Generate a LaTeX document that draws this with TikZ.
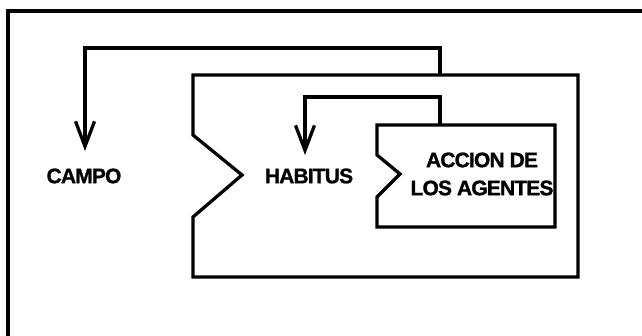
\documentclass[tikz,border=0pt]{standalone}
\usepackage{fontspec}
\setmainfont{Liberation Sans}[LetterSpace=-4, BoldFeatures={FakeBold=1.2}]
\usetikzlibrary{arrows.meta,positioning}

\begin{document}
\begin{tikzpicture}[
                x=1pt, y=-1pt,
                wall/.style={line width=3.3pt, line join=miter},
                loop/.style={line width=3.3pt, -{Straight Barb[length=25pt,width=19pt,line width=3.3pt]}},
                lab/.style={font=\bfseries\fontsize{21}{28}\selectfont, align=center, inner sep=0pt}
            ]
                \useasboundingbox (0,0) rectangle (642,336);

% frame
                \draw[wall] (8,336) -- (8,11) -- (642,11);

% corners of the boxes
                \coordinate (fa) at (193,75);
                \coordinate (fb) at (578,75);
                \coordinate (fc) at (578,277);
                \coordinate (fd) at (193,277);
                \coordinate (fe) at (193,217);
                \coordinate (ff) at (242,175);
                \coordinate (fg) at (193,135);

                \coordinate (aa) at (377,125);
                \coordinate (ab) at (555,125);
                \coordinate (ac) at (555,227);
                \coordinate (ad) at (377,227);
                \coordinate (ae) at (377,197);
                \coordinate (af) at (400,174);
                \coordinate (ag) at (377,155);

% arrow ends
                \coordinate (fieldtop) at (440,75);
                \coordinate (acttop) at (440,124);
                \coordinate (campotip) at (85,151);
                \coordinate (habtip) at (305,155);

% boxes
                \draw[wall] (fa)--(fb)--(fc)--(fd)--(fe)--(ff)--(fg)--cycle;
                \draw[wall] (aa)--(ab)--(ac)--(ad)--(ae)--(af)--(ag)--cycle;

% labels
                \node[lab] (campo) at (84,176) {CAMPO};
                \node[lab] (habitus) at (309,176) {HABITUS};
                \node[lab] (accion) at (482,174) {ACCION DE\\LOS AGENTES};

% arrows
                \draw[loop] (fieldtop) -- ++(0,-27) -| (campotip);
                \draw[loop] (acttop) -- ++(0,-27) -| (habtip);

            \end{tikzpicture}
\end{document}
